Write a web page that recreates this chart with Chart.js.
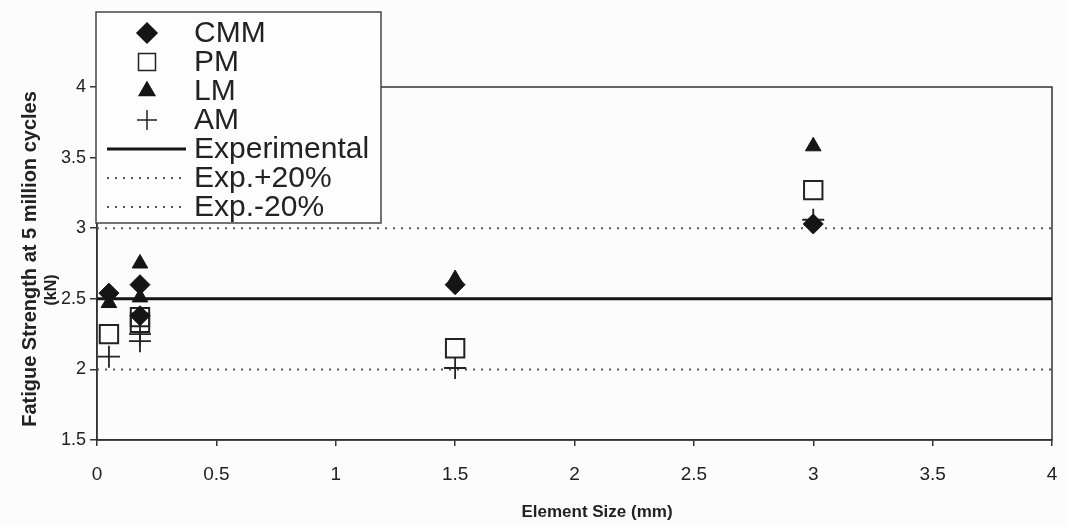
<!DOCTYPE html>
<html>
<head>
<meta charset="utf-8">
<script src="https://cdn.jsdelivr.net/npm/chart.js@4/dist/chart.umd.min.js"></script>
<style>
  html, body { margin: 0; padding: 0; background: #fcfcfc; overflow: hidden; }
  #wrap { position: relative; width: 1067px; height: 526px; }
  canvas { display: block; }
</style>
</head>
<body>
<div id="wrap"><canvas id="chart"></canvas></div>
<script>
// Values (element size in mm, strength in kN)
const cmmX = [0.05, 0.18, 0.18, 1.5, 3];
const cmmY = [2.54, 2.6, 2.38, 2.6, 3.03];
const pmX = [0.05, 0.18, 0.18, 1.5, 3];
const pmY = [2.25, 2.37, 2.33, 2.15, 3.27];
const lmX = [0.05, 0.18, 0.18, 1.5, 3];
const lmY = [2.47, 2.75, 2.51, 2.64, 3.58];
const amX = [0.05, 0.18, 0.18, 1.5, 3];
const amY = [2.09, 2.25, 2.2, 2.01, 3.06];

const experimental = 2.5;
const expPlus = 3.0;
const expMinus = 2.0;

const xTicks = [0, 0.5, 1, 1.5, 2, 2.5, 3, 3.5, 4];
const yTicks = [1.5, 2, 2.5, 3, 3.5, 4];

const xTitle = 'Element Size (mm)';
const yTitle = 'Fatigue Strength at 5 million cycles';
const yUnit = '(kN)';

const ink = '#151515';
const sans = '"Liberation Sans", Arial, sans-serif';
const pts = (xs, ys) => xs.map((x, i) => ({ x: x, y: ys[i] }));
const flat = (v) => [{ x: xTicks[0], y: v }, { x: xTicks[xTicks.length - 1], y: v }];

// Plot frame on all four sides
const framePlugin = {
    id: 'frame',
    beforeDatasetsDraw(chart) {
        const a = chart.chartArea;
        const ctx = chart.ctx;
        ctx.save();
        ctx.strokeStyle = '#333';
        ctx.lineWidth = 1.5;
        ctx.strokeRect(a.left, a.top, a.right - a.left, a.bottom - a.top);
        ctx.restore();
    }
};

// Axis titles, placed a little off centre like the original
const axisTitles = {
    id: 'axisTitles',
    afterDraw(chart) {
        const ctx = chart.ctx;
        ctx.save();
        ctx.fillStyle = '#222';
        ctx.textAlign = 'center';
        ctx.textBaseline = 'middle';
        ctx.font = 'bold 17px ' + sans;
        ctx.fillText(xTitle, 597, 512);
        ctx.translate(30, 259);
        ctx.rotate(-Math.PI / 2);
        ctx.font = 'bold 20px ' + sans;
        ctx.fillText(yTitle, 0, 0);
        ctx.font = 'bold 16px ' + sans;
        ctx.fillText(yUnit, -31, 22);
        ctx.restore();
    }
};

// Boxed legend that sits over the top left corner
const boxLegend = {
    id: 'boxLegend',
    afterDraw(chart) {
        const ctx = chart.ctx;
        const left = 96, top = 12, width = 285, height = 211;
        const rowH = 29, firstRow = 33, markX = 147, textX = 194;
        ctx.save();
        ctx.fillStyle = '#fdfdfd';
        ctx.fillRect(left, top, width, height);
        ctx.strokeStyle = '#444';
        ctx.lineWidth = 1.5;
        ctx.strokeRect(left, top, width, height);
        chart.data.datasets.forEach((ds, i) => {
            const y = firstRow + i * rowH;
            ctx.save();
            if (ds.type === 'line') {
                ctx.strokeStyle = ds.borderColor;
                ctx.lineWidth = ds.borderWidth;
                ctx.setLineDash(ds.borderDash || []);
                ctx.beginPath();
                ctx.moveTo(107, y);
                ctx.lineTo(186, y);
                ctx.stroke();
            } else {
                ctx.fillStyle = ds.backgroundColor;
                ctx.strokeStyle = ds.borderColor;
                Chart.helpers.drawPoint(ctx, {
                    pointStyle: ds.pointStyle,
                    radius: ds.legendRadius,
                    rotation: 0,
                    borderWidth: ds.borderWidth
                }, markX, y);
            }
            ctx.restore();
            ctx.fillStyle = '#222';
            ctx.font = '30px ' + sans;
            ctx.textBaseline = 'middle';
            ctx.fillText(ds.label, textX, y + 1);
        });
        ctx.restore();
    }
};

const ctx = document.getElementById('chart').getContext('2d');
new Chart(ctx, {
    type: 'scatter',
    data: {
        datasets: [
            {
                label: 'CMM',
                data: pts(cmmX, cmmY),
                pointStyle: 'rectRot',
                pointRadius: 10,
                legendRadius: 10,
                backgroundColor: ink,
                borderColor: ink,
                borderWidth: 1
            },
            {
                label: 'PM',
                data: pts(pmX, pmY),
                pointStyle: 'rect',
                pointRadius: 13,
                legendRadius: 12,
                backgroundColor: 'rgba(0,0,0,0)',
                borderColor: '#222',
                borderWidth: 2
            },
            {
                label: 'LM',
                data: pts(lmX, lmY),
                pointStyle: 'triangle',
                pointRadius: 9,
                legendRadius: 9,
                backgroundColor: ink,
                borderColor: ink,
                borderWidth: 1
            },
            {
                label: 'AM',
                data: pts(amX, amY),
                pointStyle: 'cross',
                pointRadius: 11,
                legendRadius: 10,
                backgroundColor: ink,
                borderColor: '#222',
                borderWidth: 1.8
            },
            {
                type: 'line',
                label: 'Experimental',
                data: flat(experimental),
                borderColor: ink,
                borderWidth: 3,
                pointRadius: 0,
                order: 10
            },
            {
                type: 'line',
                label: 'Exp.+20%',
                data: flat(expPlus),
                borderColor: '#555',
                borderWidth: 2,
                borderDash: [2, 6],
                pointRadius: 0,
                order: 10
            },
            {
                type: 'line',
                label: 'Exp.-20%',
                data: flat(expMinus),
                borderColor: '#555',
                borderWidth: 2,
                borderDash: [2, 6],
                pointRadius: 0,
                order: 10
            }
        ]
    },
    options: {
        responsive: true,
        maintainAspectRatio: false,
        animation: false,
        layout: {
            padding: { top: 87, right: 9, left: 0, bottom: 0 }
        },
        plugins: {
            legend: { display: false },
            tooltip: { enabled: false }
        },
        scales: {
            x: {
                type: 'linear',
                min: 0,
                max: 4,
                afterBuildTicks: (s) => { s.ticks = xTicks.map(v => ({ value: v })); },
                afterFit: (s) => { s.height = 86; s.paddingLeft = 0; s.paddingRight = 0; },
                grid: { drawOnChartArea: false, tickLength: 6, color: '#333', lineWidth: 1.5 },
                border: { color: '#333', width: 1.5 },
                ticks: {
                    color: '#222',
                    padding: 17,
                    maxRotation: 0,
                    font: { family: sans, size: 19 },
                    callback: (v) => String(v)
                }
            },
            y: {
                type: 'linear',
                min: 1.5,
                max: 4,
                afterBuildTicks: (s) => { s.ticks = yTicks.map(v => ({ value: v })); },
                afterFit: (s) => { s.width = 97; },
                grid: { drawOnChartArea: false, tickLength: 7, color: '#333', lineWidth: 1.5 },
                border: { color: '#333', width: 1.5 },
                ticks: {
                    color: '#222',
                    padding: 4,
                    font: { family: sans, size: 18 },
                    callback: (v) => String(v)
                }
            }
        }
    },
    plugins: [framePlugin, axisTitles, boxLegend]
});
</script>
</body>
</html>
